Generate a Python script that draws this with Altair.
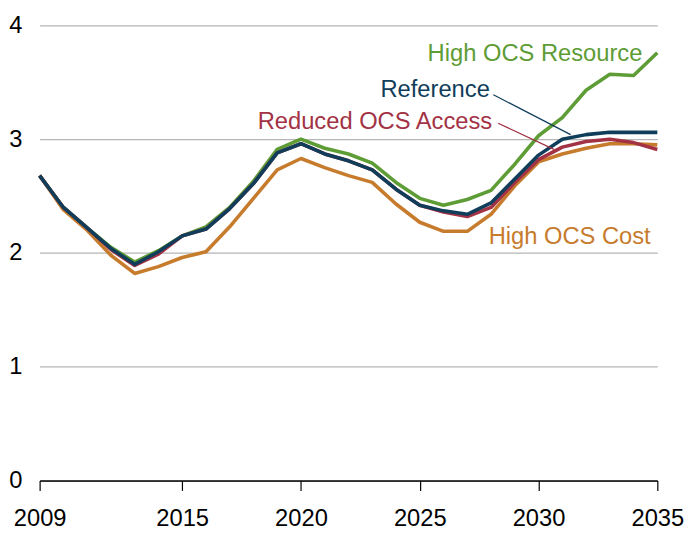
import altair as alt
import pandas as pd

years = list(range(2009, 2036))

reference = [2.68, 2.40, 2.22, 2.04, 1.90, 2.01, 2.15, 2.21, 2.39, 2.61, 2.88,
             2.96, 2.87, 2.81, 2.73, 2.56, 2.42, 2.37, 2.34, 2.44, 2.65, 2.86,
             3.00, 3.04, 3.06, 3.06, 3.06]
reduced_access = [2.68, 2.40, 2.22, 2.03, 1.89, 1.99, 2.15, 2.21, 2.39, 2.61, 2.88,
                  2.96, 2.87, 2.81, 2.73, 2.56, 2.42, 2.36, 2.32, 2.40, 2.62, 2.82,
                  2.93, 2.98, 3.00, 2.97, 2.91]
high_resource = [2.68, 2.40, 2.22, 2.05, 1.92, 2.02, 2.15, 2.23, 2.40, 2.63, 2.91,
                 3.00, 2.92, 2.87, 2.79, 2.62, 2.48, 2.42, 2.47, 2.55, 2.78, 3.03,
                 3.19, 3.43, 3.57, 3.56, 3.76]
high_cost = [2.68, 2.38, 2.20, 1.98, 1.82, 1.88, 1.96, 2.01, 2.23, 2.48, 2.73,
             2.83, 2.75, 2.68, 2.62, 2.43, 2.27, 2.19, 2.19, 2.34, 2.59, 2.80,
             2.87, 2.92, 2.96, 2.96, 2.95]

series_names = ["High OCS Resource", "High OCS Cost", "Reduced OCS Access", "Reference"]
series_values = [high_resource, high_cost, reduced_access, reference]
series_colors = ["#5e9c35", "#c77b2c", "#a33245", "#0f3d5a"]

x_ticks = [2009, 2015, 2020, 2025, 2030, 2035]
y_ticks = [0, 1, 2, 3, 4]

# label anchors (data coordinates)
label_names = ["High OCS Resource", "Reference", "Reduced OCS Access", "High OCS Cost"]
label_x = [2029.85, 2027.95, 2028.05, 2027.9]
label_y = [3.75, 3.43, 3.15, 2.14]
label_align = ["center", "right", "right", "left"]

# leader lines
leader_names = ["Reference", "Reduced OCS Access"]
leader_x = [2028.1, 2028.3]
leader_x2 = [2031.35, 2030.65]
leader_y = [3.39, 3.14]
leader_y2 = [3.04, 2.91]

rows = []
for name, vals in zip(series_names, series_values):
    for yr, v in zip(years, vals):
        rows.append({"series": name, "year": yr, "value": v})
df = pd.DataFrame(rows)

labels_df = pd.DataFrame({"series": label_names, "year": label_x,
                          "value": label_y, "align": label_align})
leader_df = pd.DataFrame({"series": leader_names, "x": leader_x, "x2": leader_x2,
                          "y": leader_y, "y2": leader_y2})

FONT = "Liberation Sans"
FS = 24
xscale = alt.Scale(domain=[2009, 2035], nice=False, zero=False)
yscale = alt.Scale(domain=[0, 4], nice=False)
cscale = alt.Scale(domain=series_names, range=series_colors)

x_axis = alt.Axis(values=x_ticks, format="d", title=None, grid=False,
                  labelFontSize=FS, labelColor="black", labelFont=FONT,
                  tickColor="black", tickSize=10, domainColor="black",
                  domainWidth=1.5, tickWidth=1.2, labelPadding=17,
                  labelFlush=False)
y_axis = alt.Axis(values=y_ticks, format="d", title=None, grid=True,
                  gridColor="#b5b5b5", gridWidth=1.2, domain=False, ticks=False,
                  tickSize=0, labelFontSize=FS, labelColor="black", labelFont=FONT,
                  labelPadding=18)

base_lines = alt.Chart(df).mark_line(strokeWidth=3.6, strokeJoin="round")

layers = []
for name in series_names:
    layers.append(
        base_lines.transform_filter(alt.datum.series == name).encode(
            x=alt.X("year:Q", scale=xscale, axis=x_axis),
            y=alt.Y("value:Q", scale=yscale, axis=y_axis),
            color=alt.Color("series:N", scale=cscale, legend=None),
            order="year:Q",
        )
    )

leaders = alt.Chart(leader_df).mark_rule(strokeWidth=1.3).encode(
    x=alt.X("x:Q", scale=xscale, axis=x_axis), x2="x2:Q",
    y=alt.Y("y:Q", scale=yscale, axis=y_axis), y2="y2:Q",
    color=alt.Color("series:N", scale=cscale, legend=None),
)

text_layers = []
for al in ["center", "right", "left"]:
    text_layers.append(
        alt.Chart(labels_df).transform_filter(alt.datum.align == al)
        .mark_text(fontSize=FS, font=FONT, align=al, baseline="middle")
        .encode(
            x=alt.X("year:Q", scale=xscale, axis=x_axis),
            y=alt.Y("value:Q", scale=yscale, axis=y_axis),
            text="series:N",
            color=alt.Color("series:N", scale=cscale, legend=None),
        )
    )

chart = alt.layer(*layers, leaders, *text_layers).properties(
    width=625, height=460.5,
    autosize=alt.AutoSizeParams(type="none"),
    padding={"left": 32, "top": 14.5, "right": 28, "bottom": 50},
).configure(font=FONT).configure_view(stroke=None)

chart.save("out.html", embed_options={"renderer": "svg", "actions": False})
